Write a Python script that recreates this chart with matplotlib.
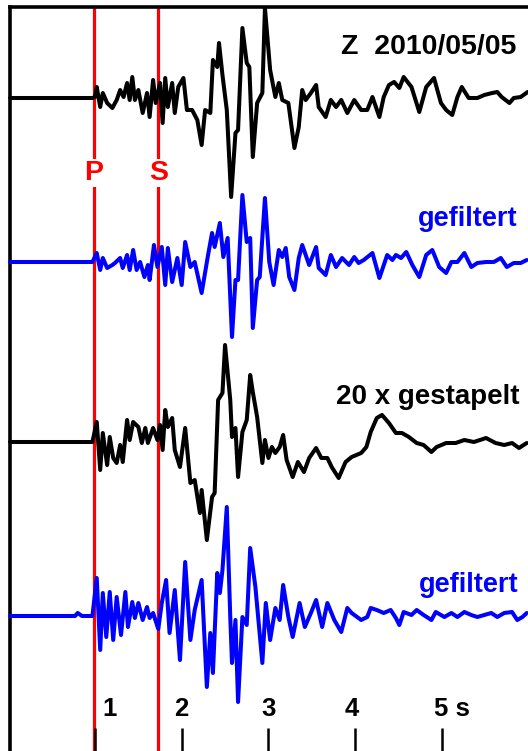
import matplotlib
matplotlib.use("Agg")
import matplotlib.pyplot as plt

# time (s) and amplitude (upward, arbitrary units) of the four traces
t_raw = [0.02, 0.97, 1.00, 1.02, 1.06, 1.09, 1.14, 1.20, 1.25, 1.29, 1.33, 1.37, 1.40, 1.43, 1.46, 1.50,
         1.55, 1.60, 1.63, 1.67, 1.70, 1.75, 1.78, 1.81, 1.84, 1.89, 1.92, 1.96, 2.02, 2.06, 2.12, 2.18,
         2.23, 2.27, 2.33, 2.36, 2.41, 2.43, 2.47, 2.52, 2.57, 2.62, 2.65, 2.70, 2.75, 2.78, 2.82, 2.87,
         2.93, 2.96, 3.02, 3.08, 3.12, 3.16, 3.23, 3.30, 3.35, 3.39, 3.43, 3.49, 3.55, 3.58, 3.66, 3.72,
         3.78, 3.84, 3.91, 3.99, 4.07, 4.14, 4.20, 4.28, 4.33, 4.39, 4.45, 4.51, 4.56, 4.65, 4.74, 4.82,
         4.91, 4.99, 5.05, 5.12, 5.18, 5.23, 5.31, 5.41, 5.49, 5.58, 5.64, 5.69, 5.78, 5.83, 5.91, 5.99]
a_raw = [0, 0, 1, 11, -9, 5, -5, -10, -2, 8, 1, 15, -2, 21, -2, 8, -15, 5, -19, 18,
         -5, 15, -25, 20, -9, 15, -15, 11, 20, -12, -12, -22, -47, -12, -15, 38, 31, 55, 23, -12,
         -99, -35, -32, 70, 35, 31, -59, -5, 5, 90, 28, 1, 15, -2, -5, -50, -29, 8, -2, 5,
         13, -9, -19, -2, -9, -2, -15, -2, -12, -12, 1, -19, 1, 13, 16, 10, 21, 11, -14, 11,
         20, -5, -12, -17, 1, 11, 0, 0, 3, 5, 6, 1, -5, 0, 1, 6]

t_raw_f = [0.02, 0.97, 1.02, 1.06, 1.09, 1.14, 1.20, 1.23, 1.29, 1.32, 1.37, 1.40, 1.44, 1.48, 1.52, 1.57,
           1.61, 1.63, 1.68, 1.72, 1.77, 1.81, 1.84, 1.89, 1.95, 2.00, 2.04, 2.10, 2.15, 2.23, 2.30, 2.35,
           2.38, 2.44, 2.48, 2.53, 2.58, 2.62, 2.65, 2.70, 2.75, 2.79, 2.82, 2.87, 2.90, 2.96, 3.01, 3.06,
           3.12, 3.16, 3.20, 3.24, 3.30, 3.35, 3.39, 3.47, 3.55, 3.58, 3.66, 3.72, 3.78, 3.85, 3.93, 3.99,
           4.04, 4.10, 4.20, 4.28, 4.37, 4.43, 4.47, 4.53, 4.59, 4.66, 4.74, 4.82, 4.89, 4.97, 5.05, 5.11,
           5.18, 5.26, 5.34, 5.41, 5.51, 5.60, 5.68, 5.75, 5.83, 5.91, 5.98]
a_raw_f = [0, 0, 9, -8, 4, -6, -3, -1, 4, -6, 7, -8, 12, -8, 0, -15, -3, -18, 17, -5,
           15, -23, 14, -20, 4, -23, 20, -5, 0, -31, 5, 29, 15, 39, 5, 24, -75, -18, -18, 67,
           20, 24, -66, -18, -15, 64, 0, -23, 12, 5, 14, -15, -28, 4, 17, -3, 15, -6, -13, 7,
           -5, 4, -3, 5, -1, 2, 9, -16, 7, 2, 7, 4, 10, -3, -15, 7, 12, -5, -11, 0,
           0, 9, -5, -1, 0, 0, 4, -5, -1, -1, 2]

t_stack = [0.02, 0.97, 1.02, 1.06, 1.09, 1.14, 1.17, 1.21, 1.25, 1.29, 1.32, 1.37, 1.40, 1.44, 1.50, 1.54,
           1.58, 1.61, 1.67, 1.72, 1.75, 1.78, 1.81, 1.84, 1.89, 1.92, 1.98, 2.04, 2.10, 2.15, 2.21, 2.23,
           2.29, 2.35, 2.38, 2.42, 2.47, 2.50, 2.56, 2.58, 2.62, 2.65, 2.70, 2.75, 2.79, 2.82, 2.87, 2.93,
           2.96, 3.00, 3.04, 3.08, 3.13, 3.17, 3.21, 3.28, 3.34, 3.41, 3.47, 3.55, 3.61, 3.68, 3.73, 3.81,
           3.89, 3.96, 4.07, 4.13, 4.18, 4.25, 4.31, 4.39, 4.47, 4.54, 4.62, 4.71, 4.79, 4.88, 4.94, 5.05,
           5.16, 5.26, 5.37, 5.51, 5.62, 5.72, 5.81, 5.89, 5.98]
a_stack = [0, 0, 20, -28, 9, -23, 5, -16, -21, -3, -20, 22, 2, 20, 15, -1, 14, -1, 14, 2,
           17, -8, 32, 15, 24, -8, -25, 14, -41, -38, -71, -48, -98, -55, -51, 42, 49, 97, 42, 5,
           14, -35, 10, 22, 67, 50, 25, -21, 2, -16, -5, -11, -5, 7, -18, -35, -20, -30, -16, -6,
           -16, -16, -25, -36, -20, -15, -11, -5, 10, 24, 27, 19, 9, 9, 5, -1, -3, -10, -5, -1,
           -1, 2, 0, 4, -1, -3, -1, -6, -1]

t_stack_f = [0.02, 0.77, 0.80, 0.85, 0.97, 1.02, 1.06, 1.09, 1.13, 1.17, 1.21, 1.25, 1.30, 1.35, 1.38, 1.43,
             1.46, 1.50, 1.55, 1.60, 1.63, 1.67, 1.73, 1.77, 1.82, 1.86, 1.92, 1.98, 2.04, 2.10, 2.15, 2.23,
             2.29, 2.33, 2.36, 2.41, 2.44, 2.47, 2.52, 2.56, 2.58, 2.62, 2.65, 2.70, 2.75, 2.79, 2.85, 2.93,
             2.97, 3.02, 3.08, 3.13, 3.17, 3.23, 3.28, 3.36, 3.42, 3.49, 3.55, 3.62, 3.68, 3.76, 3.84, 3.91,
             3.96, 4.07, 4.14, 4.18, 4.25, 4.33, 4.41, 4.47, 4.51, 4.56, 4.65, 4.71, 4.79, 4.88, 4.93, 5.03,
             5.11, 5.18, 5.26, 5.34, 5.41, 5.49, 5.57, 5.64, 5.72, 5.81, 5.87, 5.93, 5.98]
a_stack_f = [0, 0, 3, 0, 0, 38, -34, 23, -21, 24, -24, 19, -19, 24, -11, 14, -2, 13, -4, 9,
             -2, 3, -13, 13, 36, -17, 26, -44, 54, -24, 6, 36, -71, -17, -57, 43, 23, 46, 109, -1,
             -47, -4, -86, -1, -9, 68, 29, -47, 13, -24, 8, -4, 31, -1, -21, 13, -11, 3, 16, -11,
             13, -4, -16, 8, 3, -4, -1, 8, 6, 3, 6, -2, -9, 4, 1, 6, 1, -4, 4, -1,
             3, -1, 4, 1, -1, 1, 3, -1, 3, 4, -4, -1, 3]

trace_labels = ["Z  2010/05/05", "gefiltert", "20 x gestapelt", "gefiltert"]
trace_colors = ["black", "#0000ff", "black", "#0000ff"]
phase_names = ["P", "S"]
phase_times = [0.985, 1.73]
tick_pos = [1, 2, 3, 4, 5]
tick_labels = ["1", "2", "3", "4", "5 s"]

plt.rcParams["font.family"] = ["Liberation Sans", "DejaVu Sans"]

fig = plt.figure(figsize=(5.28, 7.51), dpi=100)
ax = fig.add_axes([10 / 528, 0, 518 / 528, 744 / 751])
ax.set_xlim(0.0196, 5.994)
ax.set_ylim(751, 7)   # screen-like vertical units, top = 7

offsets = [98, 262, 442, 616]
traces = [(t_raw, a_raw), (t_raw_f, a_raw_f), (t_stack, a_stack), (t_stack_f, a_stack_f)]
label_y = [54, 226, 404, 592]
label_x = [5.86, 5.87, 5.90, 5.88]
label_size = [20.5, 19.5, 20, 19.5]

for (t, a), off, col, lab, lx, ly, fs in zip(traces, offsets, trace_colors, trace_labels,
                                             label_x, label_y, label_size):
    ax.plot(t, [off - v for v in a], color=col, lw=2.9, solid_joinstyle="round",
            solid_capstyle="round", zorder=3, clip_on=False)
    ax.text(lx, ly, lab, color=col, ha="right", va="baseline", fontsize=fs, fontweight="bold")

for name, pt in zip(phase_names, phase_times):
    ax.axvline(pt, color="#ff0000", lw=2.3, zorder=1.2)
    ax.text(pt, 180, name, color="#ff0000", ha="center", va="baseline", fontsize=20.5,
            fontweight="bold", zorder=4,
            bbox=dict(facecolor="white", edgecolor="none", pad=1.0))

for sp in ["right", "bottom"]:
    ax.spines[sp].set_visible(False)
for sp in ["top", "left"]:
    ax.spines[sp].set_linewidth(2.6)

ax.set_yticks([])
ax.set_xticks(tick_pos)
ax.tick_params(axis="x", direction="in", length=16.5, width=1.8, labelbottom=False)

label_shift = [0.17, 0.0, 0.0, -0.04, -0.09]
for tp, tl, sh in zip(tick_pos, tick_labels, label_shift):
    ha = "left" if tl.endswith("s") else "center"
    ax.text(tp + sh, 716, tl, ha=ha, va="baseline", fontsize=18.5, fontweight="bold")

fig.savefig("out.png", dpi=100)
